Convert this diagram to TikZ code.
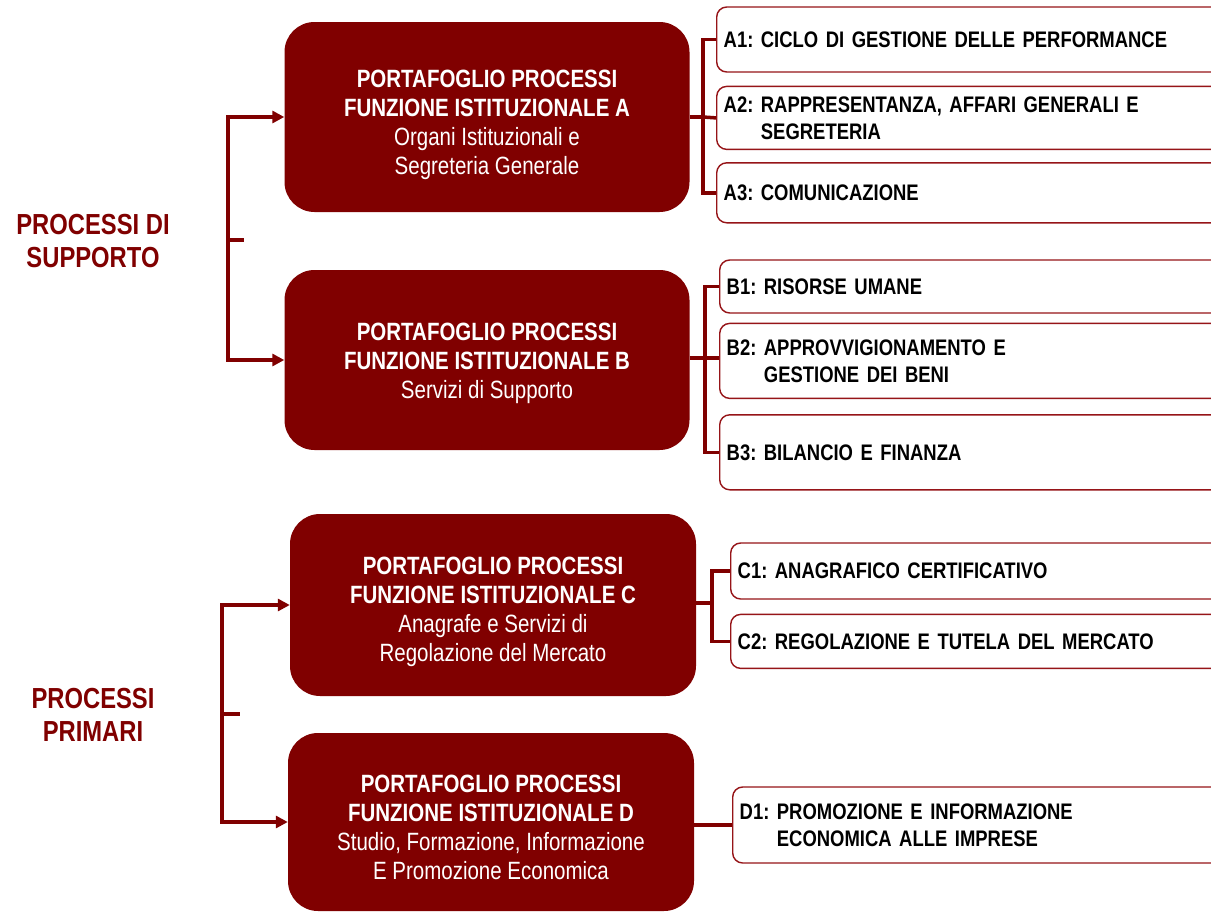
\documentclass[tikz,border=0pt]{standalone}
\usepackage{fontspec}
\setmainfont{Liberation Sans}[FakeStretch=0.82]
\usepackage{xcolor}
\usetikzlibrary{shapes,arrows.meta,positioning,fit,backgrounds}
\definecolor{maroon}{RGB}{128,0,0}
\definecolor{itemred}{RGB}{150,20,24}
\frenchspacing

\begin{document}
\begin{tikzpicture}[
    x=1pt, y=-1pt,
    node distance=13pt,
    mainbox/.style={rectangle, rounded corners=30pt, fill=maroon, text=white, minimum width=405pt, align=center, font=\fontsize{25}{29}\selectfont},
    item/.style={rectangle, rounded corners=10pt, draw=itemred, line width=1.4pt, fill=white, anchor=west, text width=500pt, inner xsep=7pt, align=left, font=\bfseries\fontsize{22.5}{27}\selectfont},
    group/.style={text=maroon, align=center, font=\bfseries\fontsize{29}{33}\selectfont},
    link/.style={draw=maroon, line width=3.5pt},
    arrow/.style={link, -{Triangle[length=12pt,width=12pt]}}
]
\clip (0,0) rectangle (1211,913);
\fill[white] (0,0) rectangle (1211,913);

\node[mainbox, minimum height=190pt, text height=120pt] (pa) at (487,117) {\textbf{PORTAFOGLIO PROCESSI}\\\textbf{FUNZIONE ISTITUZIONALE A}\\Organi Istituzionali e\\Segreteria Generale};
\node[mainbox, minimum height=180pt, text height=83pt] (pb) at (487,360) {\textbf{PORTAFOGLIO PROCESSI}\\\textbf{FUNZIONE ISTITUZIONALE B}\\Servizi di Supporto};
\node[mainbox, minimum height=182pt, minimum width=406pt, text height=118pt] (pc) at (493,605) {\textbf{PORTAFOGLIO PROCESSI}\\\textbf{FUNZIONE ISTITUZIONALE C}\\Anagrafe e Servizi di\\Regolazione del Mercato};
\node[mainbox, minimum height=178pt, minimum width=406pt, text height=116pt] (pd) at (491,822) {\textbf{PORTAFOGLIO PROCESSI}\\\textbf{FUNZIONE ISTITUZIONALE D}\\Studio, Formazione, Informazione\\E Promozione Economica};

\node[group] (sup) at (93,241) {PROCESSI DI\\SUPPORTO};
\node[group] (pri) at (93,715) {PROCESSI\\PRIMARI};

\node[item, minimum height=65pt] (a1) at (716,39.5) {A1: CICLO DI GESTIONE DELLE PERFORMANCE};
\node[item, minimum height=63pt, below=13pt of a1.south west, anchor=north west] (a2) {A2: RAPPRESENTANZA, AFFARI GENERALI E\\\hphantom{A2: }SEGRETERIA};
\node[item, minimum height=60pt, below=12pt of a2.south west, anchor=north west] (a3) {A3: COMUNICAZIONE};

\node[item, minimum height=53pt] (b1) at (719,286.5) {B1: RISORSE UMANE};
\node[item, minimum height=75pt, below=9pt of b1.south west, anchor=north west] (b2) {B2: APPROVVIGIONAMENTO E\\\hphantom{B2: }GESTIONE DEI BENI};
\node[item, minimum height=75pt, below=15pt of b2.south west, anchor=north west] (b3) {B3: BILANCIO E FINANZA};

\node[item, minimum height=56pt] (c1) at (730,571) {C1: ANAGRAFICO CERTIFICATIVO};
\node[item, minimum height=54pt, below=14pt of c1.south west, anchor=north west] (c2) {C2: REGOLAZIONE E TUTELA DEL MERCATO};

\node[item, minimum height=76pt] (d1) at (732,825) {D1: PROMOZIONE E INFORMAZIONE\\\hphantom{D1: }ECONOMICA ALLE IMPRESE};

\coordinate (ja) at (703,117);
\coordinate (jb) at (705,358);
\coordinate (jc) at (712,603);
\draw[link] (pa.east) -- (ja);
\draw[link] (a1.west) -| (ja) |- (a3.west);
\draw[link] (ja) -- (a2.west);
\draw[link] (pb.east |- jb) -- (jb);
\draw[link] (b1.west) -| (jb) |- (b3.west);
\draw[link] (jb) -- (b2.west |- jb);
\draw[link] (pc.east |- jc) -- (jc);
\draw[link] (c1.west) -| (jc) |- (c2.west);
\draw[link] (pd.east |- d1.west) -- (d1.west);

\coordinate (la) at (228,240);
\coordinate (ta) at (244,240);
\coordinate (lb) at (222,714);
\coordinate (tb) at (240,714);
\draw[arrow] (la) |- (pa.west);
\draw[arrow] (la) |- (pb.west);
\draw[link] (la) -- (ta);
\draw[arrow] (lb) |- (pc.west);
\draw[arrow] (lb) |- (pd.west);
\draw[link] (lb) -- (tb);
\end{tikzpicture}
\end{document}
